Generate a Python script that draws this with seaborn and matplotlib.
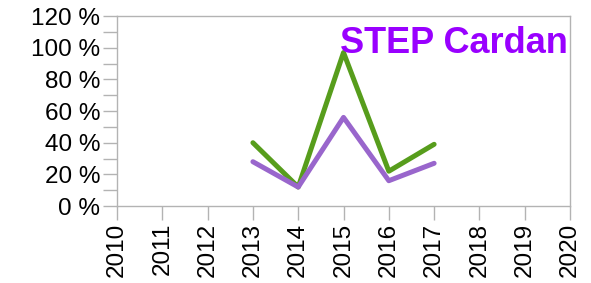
import matplotlib.pyplot as plt
import seaborn as sns
import pandas as pd
from matplotlib.ticker import MultipleLocator, FuncFormatter

# data
years = [2013, 2014, 2015, 2016, 2017]
green_vals = [40, 12, 97, 22, 39]
purple_vals = [28, 12, 56, 16, 27]
x_ticks = list(range(2010, 2021))

df = pd.DataFrame({
    'year': years * 2,
    'value': green_vals + purple_vals,
    'series': ['green'] * len(years) + ['purple'] * len(years),
})

sns.set_style('white')
plt.rcParams['font.family'] = ['Liberation Sans', 'DejaVu Sans']

fig = plt.figure(figsize=(5.91, 2.83), dpi=100)
ax = fig.add_axes([0.198, 0.272, 0.7665, 0.671])

sns.lineplot(data=df, x='year', y='value', hue='series',
             palette={'green': '#579d1c', 'purple': '#9966cc'},
             linewidth=3.6, legend=False, ax=ax)

ax.set_xlim(2010, 2020)
ax.set_ylim(0, 120)
ax.set_xticks(x_ticks)
ax.set_xticklabels([str(y) for y in x_ticks], rotation=90)
ax.yaxis.set_major_locator(MultipleLocator(20))
ax.yaxis.set_minor_locator(MultipleLocator(10))
ax.yaxis.set_major_formatter(FuncFormatter(lambda v, p: f'{int(v)} %'))
ax.set_xlabel('')
ax.set_ylabel('')

for s in ax.spines.values():
    s.set_color('#b3b3b3')
    s.set_linewidth(1)
ax.tick_params(axis='both', which='both', direction='out', length=10,
               color='#b3b3b3', width=1, labelsize=17.5, labelcolor='black',
               left=True, bottom=True, pad=2)

ax.text(0.995, 0.858, 'STEP Cardan', transform=ax.transAxes, ha='right', va='center',
        color='#9900ff', fontsize=26, fontweight='bold')

fig.savefig('out.png', dpi=100)
